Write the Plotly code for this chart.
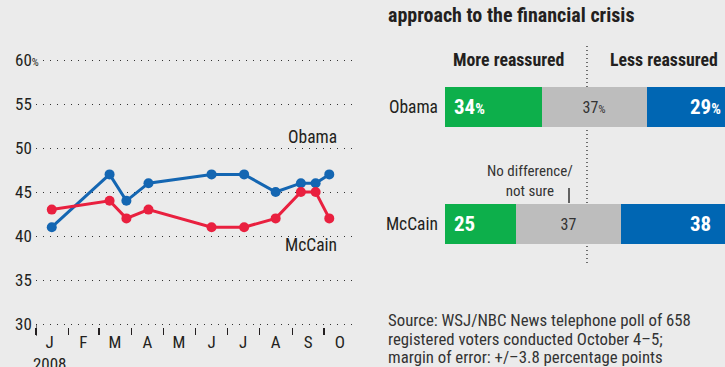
import plotly.graph_objects as go

# ---------------- data ----------------
poll_dates = ["2008-01-16", "2008-03-11", "2008-03-27", "2008-04-17", "2008-06-16",
              "2008-07-17", "2008-08-16", "2008-09-09", "2008-09-23", "2008-10-06"]
obama_pct = [41, 47, 44, 46, 47, 47, 45, 46, 46, 47]
mccain_pct = [43, 44, 42, 43, 41, 41, 42, 45, 45, 42]

y_ticks = [30, 35, 40, 45, 50, 55, 60]
month_starts = ["2008-01-01", "2008-02-01", "2008-03-01", "2008-04-01", "2008-05-01",
                "2008-06-01", "2008-07-01", "2008-08-01", "2008-09-01", "2008-10-01"]
month_mids = ["2008-01-14", "2008-02-15", "2008-03-16", "2008-04-16", "2008-05-16",
              "2008-06-16", "2008-07-16", "2008-08-16", "2008-09-16", "2008-10-16"]
month_labels = ["J<br>2008", "F", "M", "A", "M", "J", "J", "A", "S", "O"]

candidates = ["Obama", "McCain"]
more_reassured = [34, 25]
no_difference = [37, 37]
less_reassured = [29, 38]

source_lines = ["Source: WSJ/NBC News telephone poll of 658",
                "registered voters conducted October 4–5;",
                "margin of error: +/–3.8 percentage points"]

# ---------------- style ----------------
BG = "#EBEBEB"
TXT = "#231F20"
FONT = "Roboto Condensed, Roboto, Liberation Sans, sans-serif"
BLUE_LINE = "#1466B2"
RED_LINE = "#E9203F"
GREEN = "#0DAF4B"
GRAY = "#BDBDBD"
BLUE_BAR = "#0066B3"
W, H = 725, 367


def px_x(p):
    return p / W


def px_y(p):
    return (H - p) / H


def pct(v, first):
    return f"{v}<span style='font-size:72%'>%</span>" if first else f"{v}"


fig = go.Figure()

# ---------------- left: line chart ----------------
fig.add_trace(go.Scatter(x=poll_dates, y=obama_pct, mode="lines+markers",
                         line=dict(color=BLUE_LINE, width=3),
                         marker=dict(color=BLUE_LINE, size=10),
                         xaxis="x", yaxis="y", showlegend=False, hoverinfo="skip"))
fig.add_trace(go.Scatter(x=poll_dates, y=mccain_pct, mode="lines+markers",
                         line=dict(color=RED_LINE, width=3),
                         marker=dict(color=RED_LINE, size=10),
                         xaxis="x", yaxis="y", showlegend=False, hoverinfo="skip"))

# ---------------- right: stacked bars ----------------
bar_w = 0.342
fig.add_trace(go.Bar(y=candidates, x=more_reassured, orientation="h", marker=dict(color=GREEN, line=dict(width=0)),
                     width=bar_w, xaxis="x2", yaxis="y2", showlegend=False, hoverinfo="skip",
                     textposition="none"))
fig.add_trace(go.Bar(y=candidates, x=no_difference, orientation="h", marker=dict(color=GRAY, line=dict(width=0)),
                     width=bar_w, xaxis="x2", yaxis="y2", showlegend=False, hoverinfo="skip",
                     text=[pct(v, i == 0) for i, v in enumerate(no_difference)],
                     textposition="inside", insidetextanchor="middle",
                     textfont=dict(color="#333333", size=16, family=FONT),
                     constraintext="none"))
fig.add_trace(go.Bar(y=candidates, x=less_reassured, orientation="h", marker=dict(color=BLUE_BAR, line=dict(width=0)),
                     width=bar_w, xaxis="x2", yaxis="y2", showlegend=False, hoverinfo="skip",
                     textposition="none"))

annotations = []
# y tick labels of line chart (left-aligned, masking the grid)
for i, v in enumerate(y_ticks):
    txt = f"{v}<span style='font-size:11px'>%</span>" if v == y_ticks[-1] else f"{v}"
    annotations.append(dict(x=px_x(13), xref="paper", y=v, yref="y", text=txt, showarrow=False,
                            xanchor="left", yanchor="middle", bgcolor=BG, borderpad=1,
                            font=dict(size=17, color=TXT, family=FONT)))
# line labels
annotations.append(dict(x=px_x(312), xref="paper", y=px_y(137), yref="paper", text="Obama",
                        showarrow=False, xanchor="center",
                        font=dict(size=17.5, color=TXT, family=FONT)))
annotations.append(dict(x=px_x(311), xref="paper", y=px_y(257), yref="paper", text="McCain",
                        showarrow=False, xanchor="center",
                        font=dict(size=17.5, color=TXT, family=FONT)))
# right panel title
annotations.append(dict(x=px_x(386), xref="paper", y=px_y(15), yref="paper",
                        text="approach to the financial crisis", showarrow=False,
                        xanchor="left", yanchor="middle",
                        font=dict(size=20, color=TXT, family=FONT, weight="bold")))
# headers
annotations.append(dict(x=px_x(508), xref="paper", y=px_y(59), yref="paper", text="More reassured",
                        showarrow=False, xanchor="center", yanchor="middle",
                        font=dict(size=17.8, color=TXT, family=FONT, weight="bold")))
annotations.append(dict(x=px_x(664), xref="paper", y=px_y(59), yref="paper", text="Less reassured",
                        showarrow=False, xanchor="center", yanchor="middle",
                        font=dict(size=17.8, color=TXT, family=FONT, weight="bold")))
# green and blue bar labels
for i, (c, v) in enumerate(zip(candidates, more_reassured)):
    annotations.append(dict(x=px_x(452), xref="paper", y=c, yref="y2", text=pct(v, i == 0),
                            showarrow=False, xanchor="left", yanchor="middle",
                            font=dict(size=21, color="white", family=FONT, weight="bold")))
for i, (c, v) in enumerate(zip(candidates, less_reassured)):
    annotations.append(dict(x=px_x(688), xref="paper", y=c, yref="y2", text=pct(v, i == 0),
                            showarrow=False, xanchor="left", yanchor="middle",
                            font=dict(size=21, color="white", family=FONT, weight="bold")))
# no difference label
annotations.append(dict(x=px_x(530), xref="paper", y=px_y(181), yref="paper",
                        text="No difference/<br>not sure", showarrow=False, align="center",
                        xanchor="center", yanchor="middle",
                        font=dict(size=15, color="#333333", family=FONT)))
# source
for k, line in enumerate(source_lines):
    annotations.append(dict(x=px_x(386), xref="paper", y=px_y(320 + 18.5 * k), yref="paper",
                            text=line, showarrow=False, xanchor="left", yanchor="middle",
                            font=dict(size=16.8, color="#333333", family=FONT)))

shapes = [
    # 50% divider
    dict(type="line", xref="x2", yref="paper", x0=50, x1=50, y0=px_y(263), y1=px_y(43),
         line=dict(color="#444444", width=1.5, dash="1px,3px"), layer="below"),
    # pointer tick for 'No difference' label
    dict(type="line", xref="paper", yref="paper", x0=px_x(569), x1=px_x(569), y0=px_y(203), y1=px_y(188),
         line=dict(color="#333333", width=1.5)),
    # longer first-month tick
    dict(type="line", xref="x", yref="paper", x0=month_starts[0], x1=month_starts[0],
         y0=px_y(336), y1=px_y(324), line=dict(color=TXT, width=1.2)),
]

PXU = 8.8  # pixels per percentage point on the left chart
fig.update_layout(
    template="none",
    width=W, height=H, autosize=False,
    margin=dict(l=0, r=0, t=0, b=0, pad=0, autoexpand=False),
    paper_bgcolor=BG, plot_bgcolor=BG,
    font=dict(family=FONT, color=TXT),
    barmode="stack", bargap=0,
    annotations=annotations, shapes=shapes,
    xaxis=dict(domain=[px_x(36), px_x(356.6)], type="date",
               range=["2008-01-01", "2008-11-01"],
               tickmode="array", tickvals=month_mids, ticktext=month_labels,
               ticks="", ticklen=0, showgrid=False, zeroline=False, showline=False,
               tickfont=dict(size=17, color=TXT, family=FONT), ticklabelstandoff=3,
               minor=dict(tickmode="array", tickvals=month_starts, ticks="outside",
                          ticklen=7, tickwidth=1.2, tickcolor=TXT, showgrid=False),
               anchor="y", automargin=False, fixedrange=True),
    yaxis=dict(domain=[px_y(324 + 0.3 * PXU), px_y(60 - 0.3 * PXU)], range=[29.7, 60.3],
               tickmode="array", tickvals=y_ticks, showticklabels=False,
               showgrid=True, gridcolor="#333333", gridwidth=1, griddash="1px,6px",
               zeroline=False, showline=False, ticks="", anchor="x",
               automargin=False, fixedrange=True),
    xaxis2=dict(domain=[px_x(445), 1.0], range=[0, 98.6], showgrid=False, zeroline=False,
                showline=False, showticklabels=False, ticks="", anchor="y2",
                automargin=False, fixedrange=True),
    yaxis2=dict(domain=[px_y(282.5), px_y(48.5)], type="category", range=[1.5, -0.5],
                showgrid=False, zeroline=False, showline=False, ticks="",
                tickfont=dict(size=17.5, color=TXT, family=FONT), ticklabelstandoff=6,
                anchor="x2", automargin=False, fixedrange=True),
)

fig.write_html("out.html", config={"displayModeBar": False, "staticPlot": True},
               post_script="document.body.style.margin='0';document.body.style.overflow='hidden';")
